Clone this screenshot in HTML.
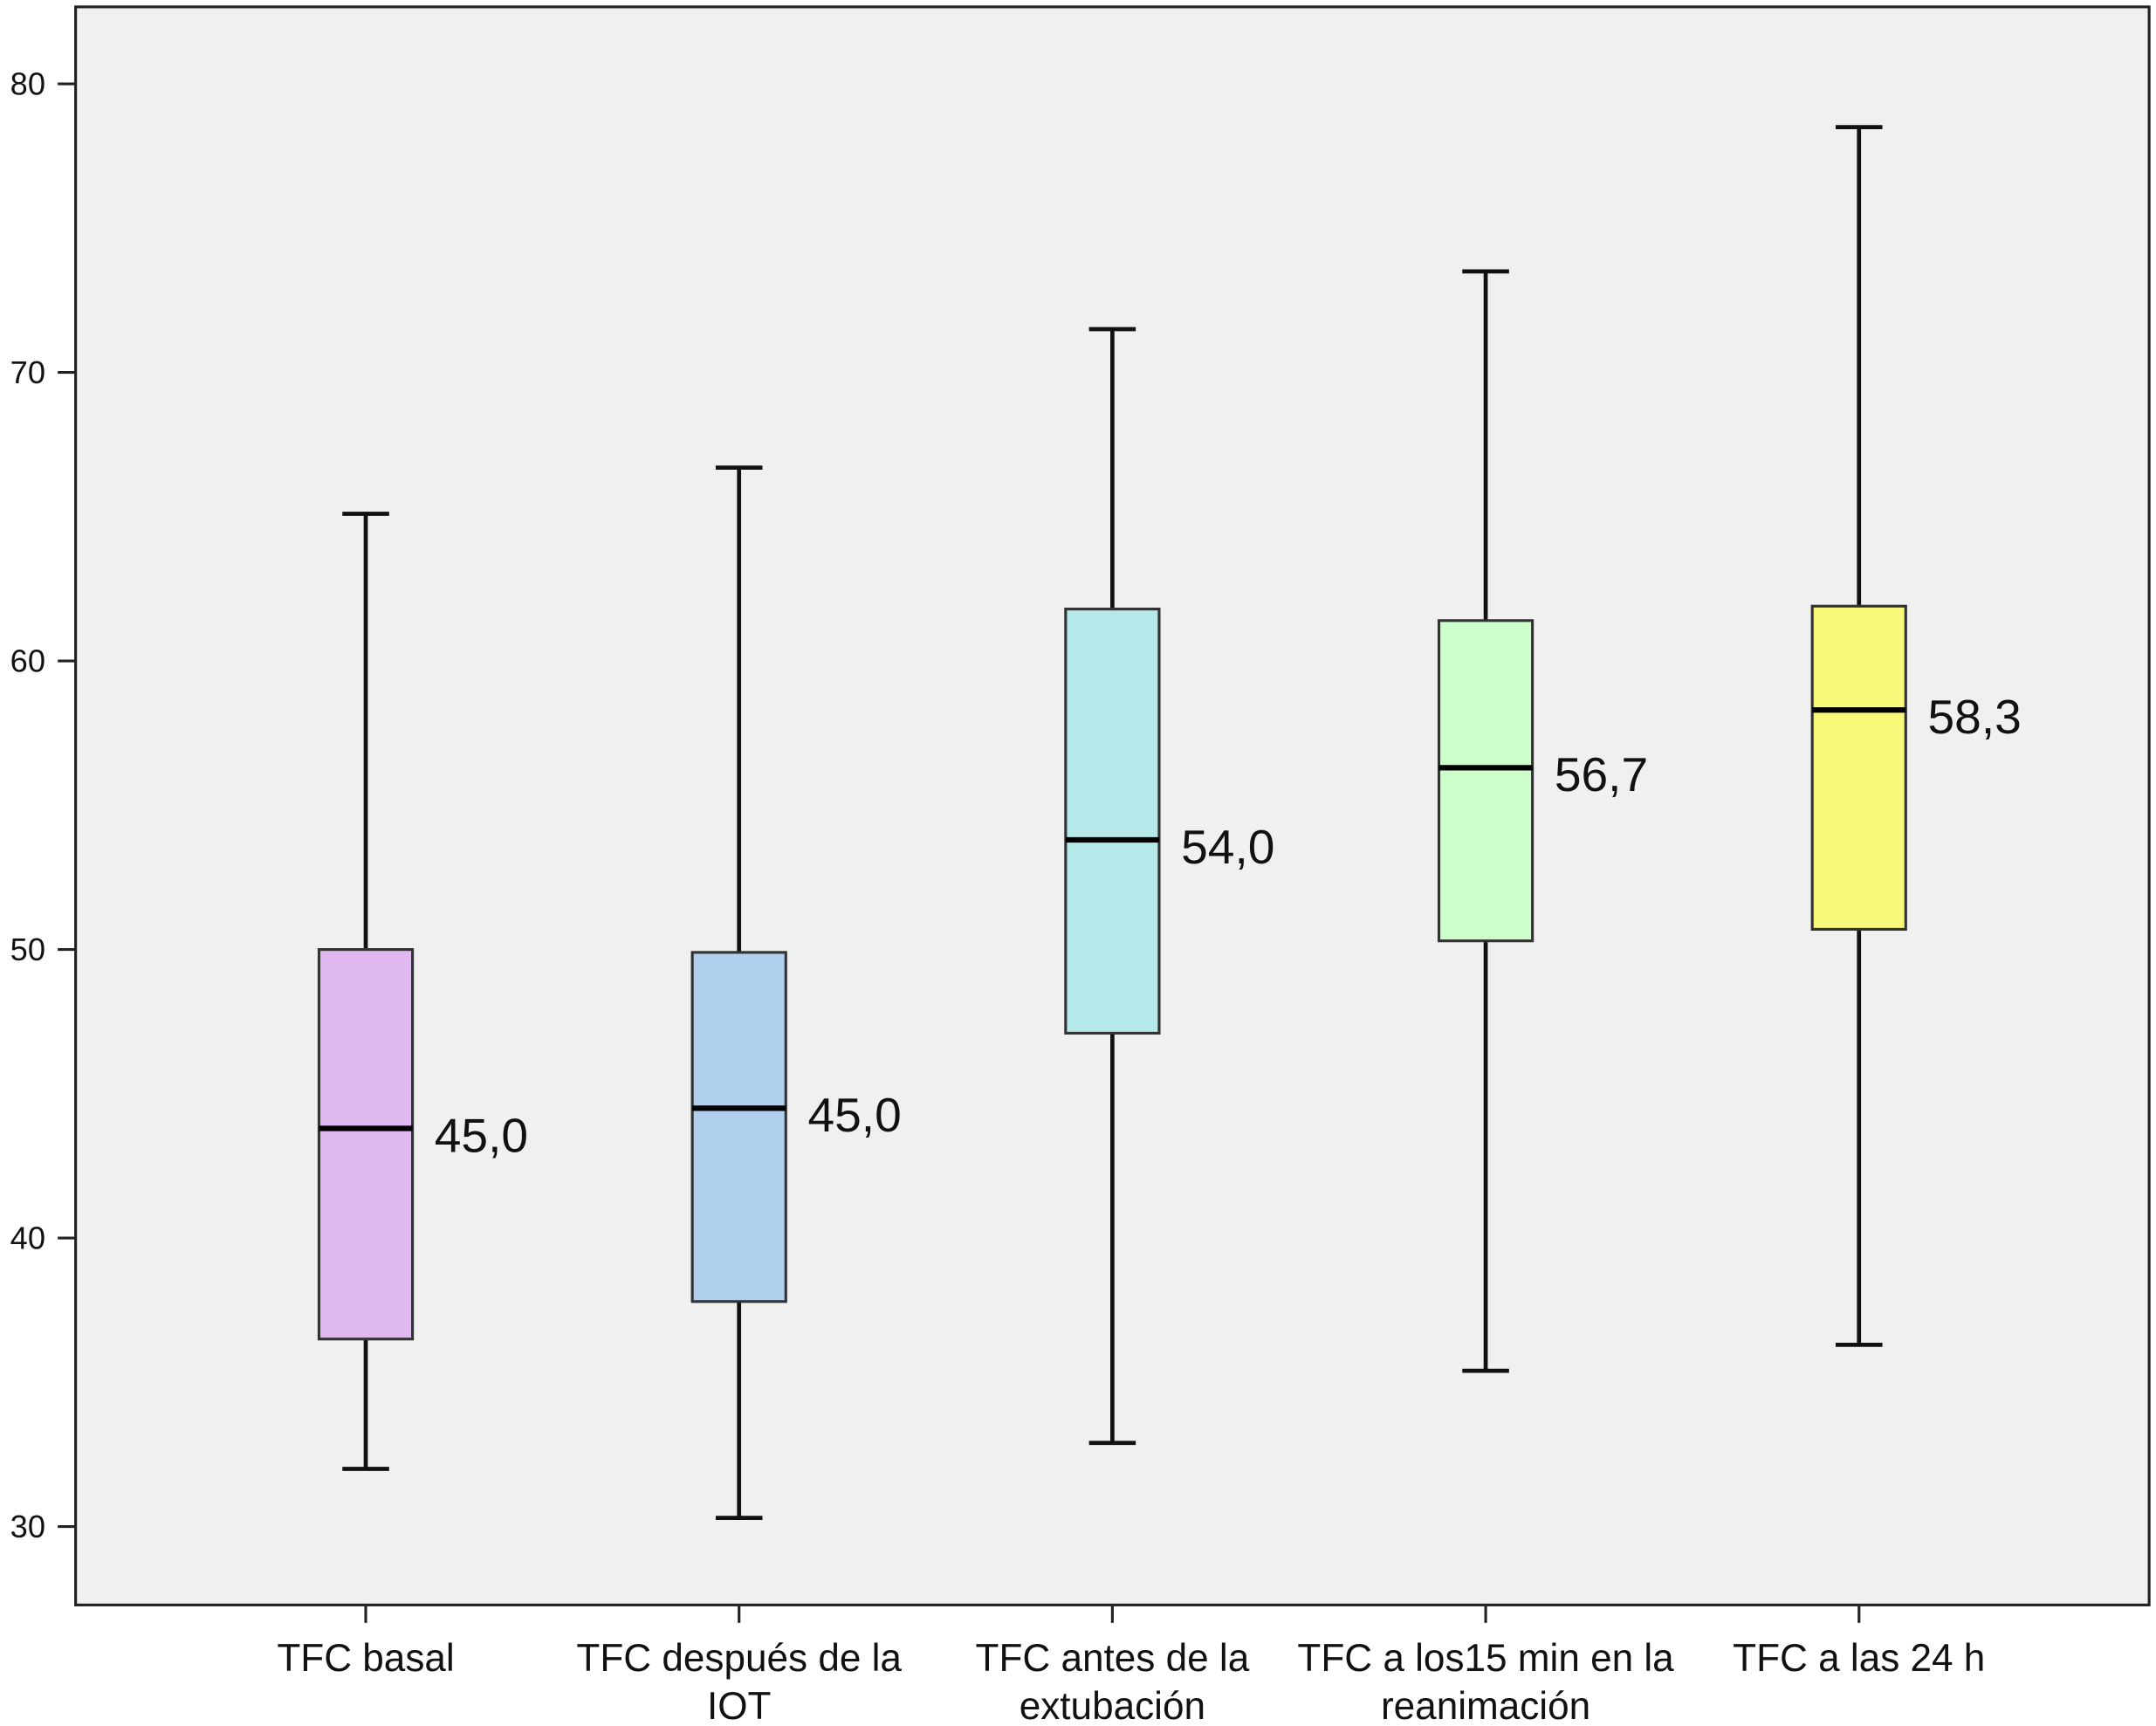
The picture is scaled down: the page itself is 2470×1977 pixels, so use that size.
<!DOCTYPE html>
<html><head><meta charset="utf-8"><style>
html,body{margin:0;padding:0;background:#fff;}
svg{display:block;}
text{font-family:"Liberation Sans",Arial,sans-serif;fill:#111;}
</style></head><body>
<svg id="chart" width="2470" height="1977" viewBox="0 0 1568 1255" preserveAspectRatio="none" xmlns="http://www.w3.org/2000/svg">
<rect x="55" y="5" width="1508" height="1162" fill="#f0f0f0" stroke="#222" stroke-width="2"/>
<g id="axis"></g>
<g id="boxes"></g>
</svg>
<script>
const categories = [["TFC basal"],["TFC después de la","IOT"],["TFC antes de la","extubación"],["TFC a los15 min en la","reanimación"],["TFC a las 24 h"]];
const whiskerLow = [32.0, 30.3, 32.9, 35.4, 36.3];
const whiskerHigh = [65.1, 66.7, 71.5, 73.5, 78.5];
const q1 = [36.5, 37.8, 47.1, 50.3, 50.7];
const q3 = [50.0, 49.9, 61.8, 61.4, 61.9];
const medians = [43.8, 44.5, 53.8, 56.3, 58.3];
const medianLabels = ["45,0","45,0","54,0","56,7","58,3"];
const yTicks = [30,40,50,60,70,80];
const colors = ["#dfb9ef","#b0d0ee","#b5e8e8","#ccfecc","#f8f97a"];

const NS="http://www.w3.org/2000/svg";
function y(v){return 1110 + (30 - v) * 20.98;}
function x(i){return 266 + i * 271.5;}
function mk(tag, attrs, parent, txt){
  const e=document.createElementNS(NS,tag);
  for(const k in attrs) e.setAttribute(k, attrs[k]);
  if(txt!==undefined) e.textContent=txt;
  parent.appendChild(e); return e;
}
const ax=document.getElementById('axis'), bx=document.getElementById('boxes');
yTicks.forEach(t=>{
  const l=mk('line',{x1:42,x2:55,y1:y(t),y2:y(t),stroke:'#222','stroke-width':2},ax);
  
  
  const tx=mk('text',{x:33,y:y(t)+8,'text-anchor':'end','font-size':23},ax,String(t));
  
  
});
categories.forEach((c,i)=>{
  const cx=x(i);
  const tk=mk('line',{x1:cx,x2:cx,y1:1167,y2:1180,stroke:'#222','stroke-width':2},ax);
  
  
  c.forEach((ln,j)=>{
    const t=mk('text',{x:cx,y:1215+j*35,'text-anchor':'middle','font-size':28},ax,ln);
    
    
  });
  const g=mk('g',{},bx);
  
  
  mk('line',{x1:cx,x2:cx,y1:y(whiskerHigh[i]),y2:y(q3[i]),stroke:'#111','stroke-width':3},g);
  mk('line',{x1:cx,x2:cx,y1:y(q1[i]),y2:y(whiskerLow[i]),stroke:'#111','stroke-width':3},g);
  mk('line',{x1:cx-17,x2:cx+17,y1:y(whiskerHigh[i]),y2:y(whiskerHigh[i]),stroke:'#111','stroke-width':3},g);
  mk('line',{x1:cx-17,x2:cx+17,y1:y(whiskerLow[i]),y2:y(whiskerLow[i]),stroke:'#111','stroke-width':3},g);
  const r=mk('rect',{x:cx-34,y:y(q3[i]),width:68,height:y(q1[i])-y(q3[i]),fill:colors[i],stroke:'#333','stroke-width':2},g);
  
  
  const m=mk('line',{x1:cx-34,x2:cx+34,y1:y(medians[i]),y2:y(medians[i]),stroke:'#000','stroke-width':4},g);
  
  
  const lb=mk('text',{x:cx+50,y:y(medians[i])+17,'font-size':35},g,medianLabels[i]);
  
  
});
</script>
</body></html>
